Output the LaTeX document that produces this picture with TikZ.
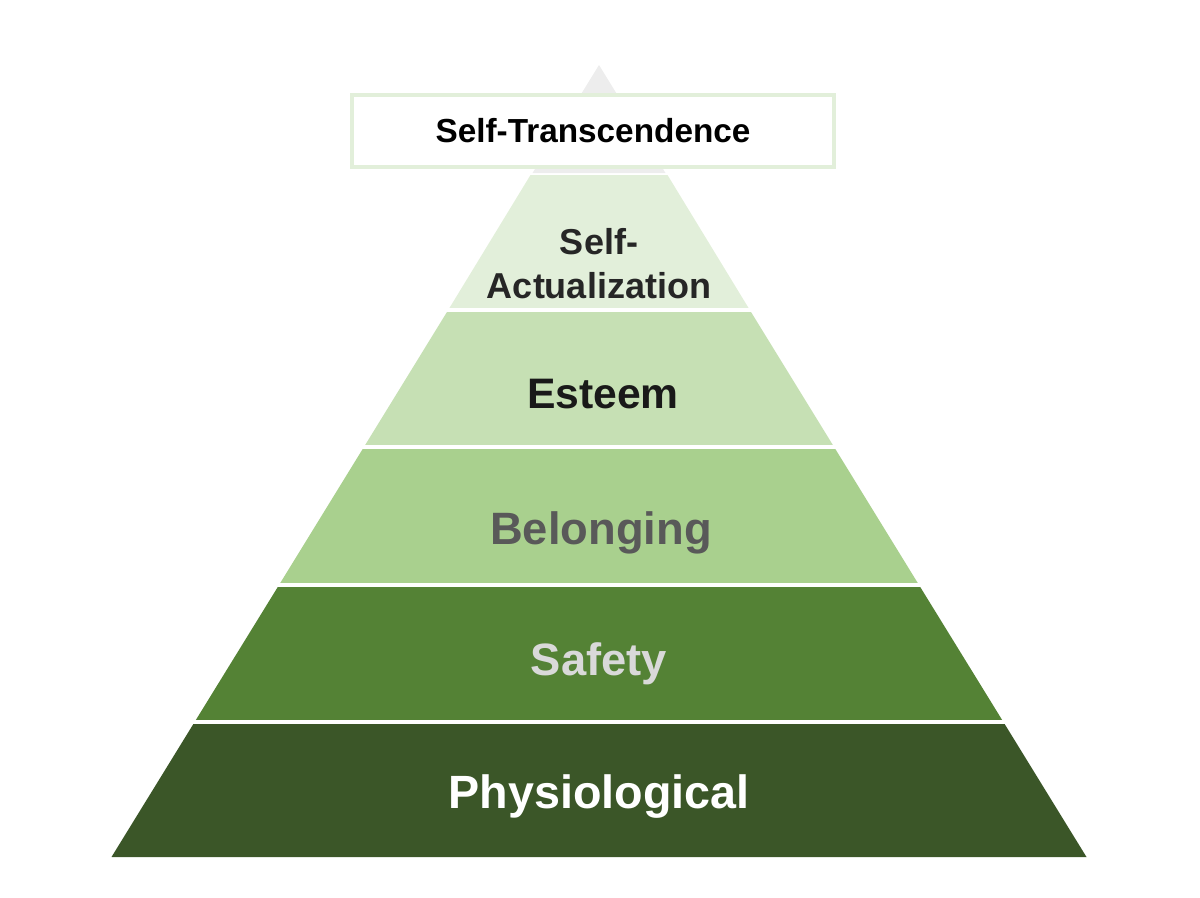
\documentclass[tikz,border=0pt]{standalone}
\usepackage{fontspec}
\setmainfont{Liberation Sans}
\begin{document}
\begin{tikzpicture}[x=0.75pt,y=-0.75pt,
  lbl/.style={font=\bfseries, align=center, inner sep=0pt},
  gap/.style={white, line width=2.5pt}]
\useasboundingbox (0,0) rectangle (1200,897);
\definecolor{cT}{HTML}{EDEDED}
\definecolor{cA}{HTML}{E2EFDA}
\definecolor{cE}{HTML}{C6E0B4}
\definecolor{cB}{HTML}{A9D08E}
\definecolor{cS}{HTML}{548235}
\definecolor{cP}{HTML}{3B5628}
\fill[cT] (599,65) -- (665.5,173) -- (532.5,173) -- cycle;
\fill[cA] (530.5,175) -- (667.5,175) -- (749.8,310) -- (448.2,310) -- cycle;
\fill[cE] (448.2,310) -- (749.8,310) -- (834.1,447) -- (363.9,447) -- cycle;
\fill[cB] (363.9,447) -- (834.1,447) -- (919,585) -- (279,585) -- cycle;
\fill[cS] (279,585) -- (919,585) -- (1003.4,722) -- (194.6,722) -- cycle;
\fill[cP] (194.6,722) -- (1003.4,722) -- (1086.5,857) -- (111.5,857) -- cycle;
\foreach \yy in {310,447,585,722} \draw[gap] (100,\yy) -- (1100,\yy);
\node[draw=cA, line width=3pt, fill=white, minimum width=362pt*0.75/0.75, minimum height=54pt, inner sep=0pt] (tbox) at (593,131) {};
\node[lbl, font=\bfseries\fontsize{25}{28}\selectfont, text=black] (t) at (tbox) {Self-Transcendence};
\node[lbl, font=\bfseries\fontsize{27}{33}\selectfont, text=black!85] (a) at (599,264) {Self-\\Actualization};
\node[lbl, font=\bfseries\fontsize{32}{36}\selectfont, text=black!90] (e) at (603,394) {Esteem};
\node[lbl, font=\bfseries\fontsize{34}{38}\selectfont, text=black!65] (b) at (601,533) {Belonging};
\node[lbl, font=\bfseries\fontsize{34}{38}\selectfont, text=black!15] (s) at (599,664) {Safety};
\node[lbl, font=\bfseries\fontsize{35}{40}\selectfont, text=white] (p) at (599,797) {Physiological};
\end{tikzpicture}
\end{document}
